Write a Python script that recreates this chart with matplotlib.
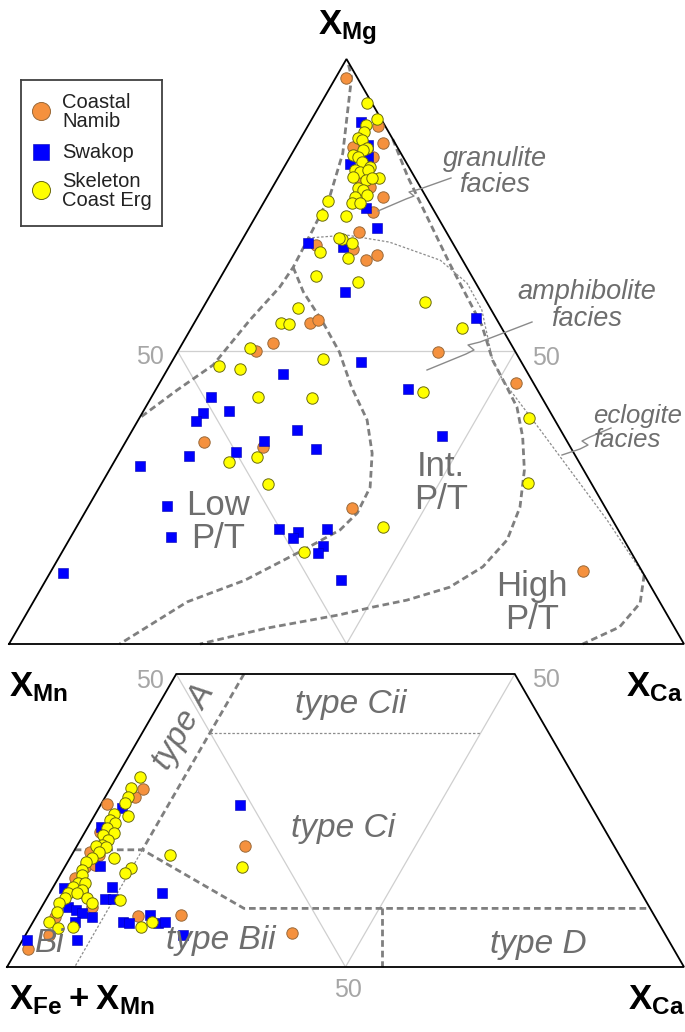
import numpy as np
import matplotlib
matplotlib.use("Agg")
import matplotlib.pyplot as plt
from matplotlib.lines import Line2D

plt.rcParams['font.family'] = ['Liberation Sans', 'DejaVu Sans']
plt.rcParams['mathtext.fontset'] = 'custom'
plt.rcParams['mathtext.rm'] = 'Liberation Sans'
plt.rcParams['mathtext.bf'] = 'Liberation Sans:bold'

# ---- data (percent) ----
# upper diagram: X_Mg (top) and X_Ca (right), the rest is X_Fe + X_Mn
up_namib_mg = [96.8, 88.5, 85.6, 83.2, 76.4, 73.8, 70.4, 65.6, 66.5, 67.5, 68.2, 85.0,
               79.3, 78.1, 54.9, 55.4, 51.5, 50.1, 49.9, 44.6, 23.2, 12.5, 34.5, 33.7]
up_namib_ca = [1.5, 10.4, 12.6, 12.3, 17.2, 17.0, 16.7, 20.1, 21.2, 17.2, 11.4, 8.5,
               12.3, 14.4, 17.2, 18.1, 13.3, 11.6, 38.6, 52.8, 39.2, 78.8, 11.6, 20.8]

up_swakop_mg = [89.2, 85.3, 83.2, 82.1, 74.5, 71.1, 68.5, 67.9, 60.2, 55.7, 46.2, 42.2,
                39.8, 39.5, 38.1, 36.6, 34.7, 33.3, 32.8, 32.1, 30.4, 23.6, 18.3, 19.7,
                19.1, 18.1, 19.7, 16.8, 15.6, 12.1, 10.9, 48.2, 43.6, 35.6]
up_swakop_ca = [7.5, 10.6, 11.6, 9.4, 15.6, 18.9, 10.1, 15.6, 19.7, 41.4, 17.5, 8.8,
                12.7, 9.0, 8.6, 24.4, 20.4, 28.9, 17.2, 10.6, 4.2, 11.6, 14.8, 30.2,
                33.2, 33.0, 37.3, 38.1, 38.0, 1.9, 43.8, 28.0, 37.3, 46.3]

up_erg_mg = [92.5, 89.7, 88.7, 87.5, 86.5, 86.2, 84.8, 84.4, 83.6, 83.2, 82.4, 81.5,
             81.0, 80.7, 81.0, 79.8, 79.3, 79.7, 79.7, 77.9, 77.6, 76.4, 76.8, 75.4,
             75.4, 75.7, 73.3, 73.2, 69.2, 68.5, 66.0, 61.9, 58.5, 54.0, 62.9, 57.4,
             54.9, 54.7, 50.6, 47.5, 47.0, 48.7, 42.2, 42.1, 43.1, 38.6, 27.5, 20.0,
             31.1, 32.0, 27.4, 15.7, 67.0, 69.4]
up_erg_ca = [6.8, 9.6, 8.5, 8.9, 8.4, 9.2, 10.6, 10.2, 9.2, 10.1, 11.1, 12.7,
             10.8, 11.7, 12.7, 11.1, 13.3, 14.9, 14.0, 12.7, 13.6, 13.1, 14.6, 13.1,
             14.3, 9.4, 9.7, 13.3, 14.7, 16.5, 17.2, 20.7, 32.4, 40.1, 14.0, 14.1,
             12.9, 14.1, 10.4, 7.3, 10.7, 22.1, 15.8, 23.9, 39.8, 57.7, 63.1, 45.4,
             17.0, 20.7, 24.7, 35.8, 12.6, 14.2]

# lower diagram: X_Mn (top, cut at 50) and X_Ca (right)
lo_namib_mn = [30.4, 29.0, 27.8, 23.0, 19.6, 19.1, 17.1, 14.5, 10.2, 8.5, 5.5, 3.1,
               8.7, 8.9, 5.8, 20.6, 15.2, 17.4]
lo_namib_ca = [4.9, 4.4, 0.9, 2.2, 2.5, 4.1, 3.0, 3.5, 7.5, 2.8, 3.4, 1.6,
               15.0, 21.2, 39.2, 24.9, 2.4, 4.3]

lo_swakop_mn = [27.6, 27.1, 23.9, 17.2, 13.5, 13.7, 12.6, 11.6, 11.6, 10.2, 9.7, 9.2,
                8.5, 7.7, 4.6, 12.6, 7.7, 7.5, 8.9, 7.5, 7.7, 5.5, 4.6]
lo_swakop_ca = [20.6, 3.5, 2.0, 5.1, 1.6, 8.7, 4.9, 8.7, 9.9, 3.9, 5.4, 6.5,
                8.3, 6.2, 8.0, 16.6, 13.3, 14.2, 16.7, 18.5, 19.5, 23.3, 0.7]

lo_erg_mn = [32.4, 30.5, 29.0, 28.0, 25.8, 26.1, 25.1, 24.6, 23.7, 22.9, 22.5, 21.7,
             20.8, 20.6, 20.5, 19.6, 18.6, 18.6, 17.9, 16.6, 15.7, 16.9, 16.0, 14.3,
             14.3, 13.7, 13.1, 12.6, 12.6, 11.8, 10.9, 11.8, 10.9, 9.4, 7.7, 6.7,
             6.8, 11.4, 7.7, 6.8, 19.1, 17.1]
lo_erg_ca = [3.4, 3.0, 3.4, 3.4, 5.0, 2.7, 2.6, 3.7, 2.9, 4.3, 2.9, 4.1,
             3.6, 2.8, 4.3, 3.8, 6.5, 3.3, 2.7, 2.8, 3.3, 9.8, 9.4, 3.3,
             4.3, 2.9, 4.5, 2.7, 4.0, 5.9, 7.1, 2.7, 2.3, 2.7, 2.3, 4.2,
             6.3, 11.0, 17.6, 16.4, 14.5, 26.2]

# field boundaries (top %, Ca %)
granulite_left_mg = [99.0, 96.9, 83.9, 76.8, 70.8, 64.4, 61.0, 55.4, 47.7, 43.4, 38.6]
granulite_left_ca = [0.8, 2.3, 7.5, 9.2, 9.6, 9.9, 9.6, 8.0, 6.4, 3.2, 0.0]
low_pt_mg = [64.4, 60.2, 54.9, 49.9, 43.9, 38.3, 32.6, 26.8, 22.4, 19.5, 16.1, 10.9, 7.2, 0.0]
low_pt_ca = [9.9, 13.5, 19.1, 24.0, 28.8, 33.9, 37.5, 40.1, 40.4, 39.3, 35.6, 29.5, 22.8, 16.4]
int_pt_mg = [86.3, 79.8, 73.7, 65.1, 54.5, 48.5, 43.9, 40.5, 35.4, 29.7, 23.4, 17.8,
             13.2, 9.7, 7.5, 6.3, 5.0, 2.7, 0.0]
int_pt_ca = [13.7, 19.2, 24.8, 32.7, 42.8, 47.4, 51.8, 55.0, 58.4, 61.5, 64.0, 64.9,
             63.6, 60.4, 55.2, 50.7, 46.5, 36.8, 28.3]
high_pt_mg = [11.8, 7.0, 2.9, 0.0]
high_pt_ca = [88.2, 90.0, 89.0, 85.0]
facies_dot_mg = [69.4, 69.9, 68.7, 65.6, 61.7, 57.1, 48.5, 45.0, 36.6, 21.2, 12.1]
facies_dot_ca = [9.6, 15.1, 22.0, 31.1, 37.0, 41.5, 47.4, 50.7, 60.4, 78.0, 87.8]

typeA_mn = [50, 20]
typeA_ca = [10, 10]
bi_mn = [20, 0]
bi_ca = [10, 10]
cii_mn = [40, 40]
cii_ca = [10, 50]
ci_mn = [20, 20, 10, 10]
ci_ca = [0, 10, 30, 90]
d_mn = [10, 0]
d_ca = [50.4, 55.4]

SQ = np.sqrt(3) / 2


def tern(top, right):
    top = np.asarray(top, dtype=float) / 100
    right = np.asarray(right, dtype=float) / 100
    return right + top / 2, top * SQ


def px(x, y):
    return x / 685, 1 - y / 1032


W, H = 685, 1032
fig = plt.figure(figsize=(W / 100, H / 100), dpi=100)
fig.patch.set_facecolor('white')

ax_up = fig.add_axes([9 / W, 1 - 644 / H, 675 / W, 585 / H])
ax_lo = fig.add_axes([7 / W, 1 - 967 / H, 677 / W, 293 / H])
ax_up.set_xlim(0, 1)
ax_up.set_ylim(0, SQ)
ax_lo.set_xlim(0, 1)
ax_lo.set_ylim(0, SQ / 2)
for a in (ax_up, ax_lo):
    a.axis('off')

grid_c = '#cfcfcf'
dash_c = '#7f7f7f'

# ---- upper triangle ----
x, y = tern([50, 50, 0, 50], [0, 50, 50, 0])
ax_up.plot(x, y, color=grid_c, lw=0.9, zorder=1)
x, y = tern([0, 0, 100, 0], [0, 100, 0, 0])
ax_up.plot(x, y, color='black', lw=1.3, zorder=5, clip_on=False, solid_joinstyle='miter')

for mg, ca in [(granulite_left_mg, granulite_left_ca), (low_pt_mg, low_pt_ca),
               (int_pt_mg, int_pt_ca), (high_pt_mg, high_pt_ca)]:
    x, y = tern(mg, ca)
    ax_up.plot(x, y, color=dash_c, lw=2.0, dashes=(2.4, 1.4), zorder=2, clip_on=False)
x, y = tern(facies_dot_mg, facies_dot_ca)
ax_up.plot(x, y, color='#8c8c8c', lw=0.9, dashes=(2, 1.5), zorder=2)

ms = 8.2
edge_o = '#9a6a3a'
edge_y = '#6b6b10'
orange = '#f5913e'
x, y = tern(up_namib_mg, up_namib_ca)
ax_up.plot(x, y, 'o', ms=ms, mfc=orange, mec=edge_o, mew=0.7, zorder=6, clip_on=False)
x, y = tern(up_swakop_mg, up_swakop_ca)
ax_up.plot(x, y, 's', ms=7.6, mfc='#0000ff', mec='#0000b0', mew=0.4, zorder=7, clip_on=False)
x, y = tern(up_erg_mg, up_erg_ca)
ax_up.plot(x, y, 'o', ms=ms, mfc='#ffff00', mec=edge_y, mew=0.7, zorder=8, clip_on=False)

# ---- lower triangle (cut at 50) ----
x, y = tern([50, 0], [0, 50])
ax_lo.plot(x, y, color=grid_c, lw=0.9, zorder=1)
x, y = tern([50, 0], [50, 50])
ax_lo.plot(x, y, color=grid_c, lw=0.9, zorder=1)
x, y = tern([0, 0, 50, 50, 0], [0, 100, 50, 0, 0])
ax_lo.plot(x, y, color='black', lw=1.3, zorder=5, clip_on=False, solid_joinstyle='miter')

for mn, ca in [(typeA_mn, typeA_ca), (ci_mn, ci_ca), (d_mn, d_ca)]:
    x, y = tern(mn, ca)
    ax_lo.plot(x, y, color=dash_c, lw=2.0, dashes=(2.4, 1.4), zorder=2, clip_on=False)
for mn, ca in [(bi_mn, bi_ca), (cii_mn, cii_ca)]:
    x, y = tern(mn, ca)
    ax_lo.plot(x, y, color='#8c8c8c', lw=0.9, dashes=(2, 1.5), zorder=2)

x, y = tern(lo_namib_mn, lo_namib_ca)
ax_lo.plot(x, y, 'o', ms=ms, mfc=orange, mec=edge_o, mew=0.7, zorder=6, clip_on=False)
x, y = tern(lo_swakop_mn, lo_swakop_ca)
ax_lo.plot(x, y, 's', ms=7.6, mfc='#0000ff', mec='#0000b0', mew=0.4, zorder=7, clip_on=False)
x, y = tern(lo_erg_mn, lo_erg_ca)
ax_lo.plot(x, y, 'o', ms=ms, mfc='#ffff00', mec=edge_y, mew=0.7, zorder=8, clip_on=False)

# ---- texts ----
lab = dict(fontsize=25, color='black', fontweight='bold')
fig.text(*px(318, 8), r'$\mathbf{X_{Mg}}$', ha='left', va='top', **lab)
fig.text(*px(9, 670), r'$\mathbf{X_{Mn}}$', ha='left', va='top', **lab)
fig.text(*px(626, 670), r'$\mathbf{X_{Ca}}$', ha='left', va='top', **lab)
fig.text(*px(9, 983), r'$\mathbf{X_{Fe} + X_{Mn}}$', ha='left', va='top', **lab)
fig.text(*px(628, 983), r'$\mathbf{X_{Ca}}$', ha='left', va='top', **lab)

g50 = dict(fontsize=18, color='#a6a6a6', ha='center', va='center')
fig.text(*px(150, 357), '50', **g50)
fig.text(*px(546, 358), '50', **g50)
fig.text(*px(150, 681), '50', **g50)
fig.text(*px(546, 680), '50', **g50)
fig.text(*px(348, 990), '50', **g50)

big = dict(fontsize=25, color='#6e6e6e', ha='center', va='center', linespacing=1.0)
fig.text(*px(218, 522), 'Low\nP/T', **big)
fig.text(*px(441, 483), 'Int.\nP/T', **big)
fig.text(*px(532, 603), 'High\nP/T', **big)

fac = dict(fontsize=19.5, color='#6e6e6e', style='italic', ha='center', va='center',
           linespacing=1.05)
fig.text(*px(495, 172), 'granulite\nfacies', **fac)
fig.text(*px(587, 305), 'amphibolite\nfacies', **fac)
fig.text(*px(593, 428), 'eclogite\nfacies', ha='left', va='center', fontsize=18.5,
         color='#6e6e6e', style='italic', linespacing=1.05)

typ = dict(fontsize=24, color='#6e6e6e', style='italic', ha='center', va='center')
fig.text(*px(351, 705), 'type Cii', **typ)
fig.text(*px(343, 828), 'type Ci', **typ)
fig.text(*px(221, 941), 'type Bii', **typ)
fig.text(*px(538, 945), 'type D', **typ)
fig.text(*px(50, 944), 'Bi', **typ)
fig.text(*px(184, 727), 'type A', rotation=60, rotation_mode='anchor', **typ)

# leader lines (figure pixels)
leaders = [
    [(451, 178), (420, 189), (409, 192), (414, 196), (406, 199), (378, 211)],
    [(532, 322), (480, 342), (468, 345), (474, 350), (466, 354), (427, 370)],
    [(611, 428), (590, 437), (582, 441), (588, 445), (580, 449), (562, 455)],
]
for pts in leaders:
    xs = [p[0] / W for p in pts]
    ys = [1 - p[1] / H for p in pts]
    fig.add_artist(Line2D(xs, ys, color='#8a8a8a', lw=1.0, transform=fig.transFigure))

# ---- legend ----
lg = fig.add_axes([21 / W, 1 - 226 / H, 141 / W, 146 / H])
lg.set_xlim(0, 141)
lg.set_ylim(146, 0)
lg.set_xticks([])
lg.set_yticks([])
for s in lg.spines.values():
    s.set_color('#404040')
    s.set_linewidth(1.3)
lg.plot([20], [31], 'o', ms=13, mfc=orange, mec=edge_o, mew=0.7)
lg.plot([20], [72], 's', ms=11.5, mfc='#0000ff', mec='#0000b0', mew=0.4)
lg.plot([20], [110], 'o', ms=13, mfc='#ffff00', mec=edge_y, mew=0.7)
lt = dict(fontsize=14.5, color='#222222', ha='left', va='center', linespacing=0.95)
lg.text(41, 32, 'Coastal\nNamib', **lt)
lg.text(41, 73, 'Swakop', **lt)
lg.text(41, 111, 'Skeleton\nCoast Erg', **lt)

fig.savefig('out.png', dpi=100)
